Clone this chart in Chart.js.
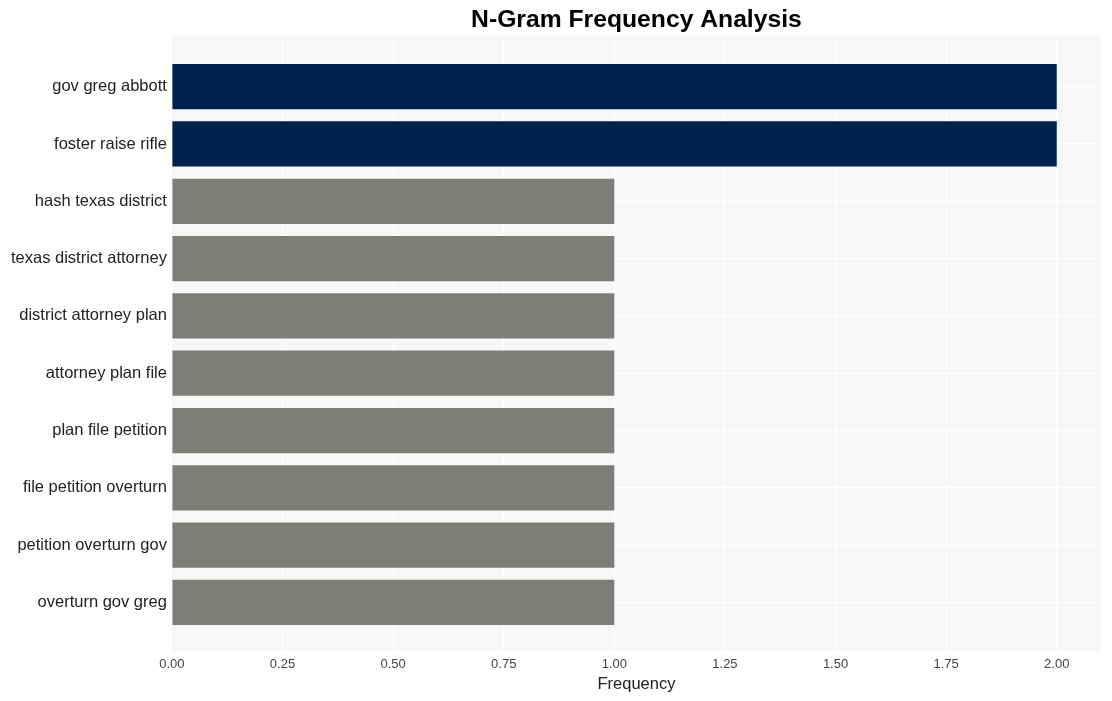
<!DOCTYPE html>
<html>
<head>
<meta charset="utf-8">
<script src="https://cdn.jsdelivr.net/npm/chart.js@4"></script>
<style>
  html, body { margin: 0; padding: 0; background: #fff; }
  #wrap { width: 1112px; height: 701px; }
</style>
</head>
<body>
<div id="wrap"><canvas id="ngramChart"></canvas></div>
<script>
"use strict";
// ========== DATA ========== //
const ngrams = [
  "gov greg abbott",
  "foster raise rifle",
  "hash texas district",
  "texas district attorney",
  "district attorney plan",
  "attorney plan file",
  "plan file petition",
  "file petition overturn",
  "petition overturn gov",
  "overturn gov greg"
];
const frequencies = [2, 2, 1, 1, 1, 1, 1, 1, 1, 1];
const xTicks = [0, 0.25, 0.5, 0.75, 1, 1.25, 1.5, 1.75, 2];

// top values get the dark colour, the rest grey
const barColors = frequencies.map(f => f === 2 ? "#00224f" : "#7e7d78");

// plot background
const plotBg = {
  id: "plotBg",
  beforeDraw(chart) {
    const { ctx, chartArea: a } = chart;
    ctx.save();
    ctx.fillStyle = "#f7f7f7";
    ctx.fillRect(a.left, a.top, a.right - a.left, a.bottom - a.top);
    ctx.restore();
  }
};

const font = "Liberation Sans, Arial, sans-serif";

// rows on a numeric axis so the band can have extra space at the ends
const rows = frequencies.map((f, i) => ({ x: f, y: i }));

const chart = new Chart(document.querySelector("#ngramChart"), {
  type: "bar",
  data: {
    labels: ngrams,
    datasets: [{
      data: rows,
      backgroundColor: barColors,
      borderWidth: 0,
      barPercentage: 0.79,
      categoryPercentage: 1
    }]
  },
  options: {
    indexAxis: "y",
    responsive: true,
    maintainAspectRatio: false,
    animation: false,
    layout: { padding: { left: 6, right: 11, top: 2, bottom: 7 } },
    plugins: {
      legend: { display: false },
      tooltip: { enabled: false },
      title: {
        display: true,
        text: "N-Gram Frequency Analysis",
        fullSize: false,
        color: "#000",
        font: { family: font, size: 24.7, weight: "bold" },
        padding: { top: 3, bottom: 1 }
      }
    },
    scales: {
      x: {
        type: "linear",
        min: 0,
        max: 2.1,
        afterBuildTicks(scale) { scale.ticks = xTicks.map(v => ({ value: v })); },
        grid: { color: "#ffffff", lineWidth: 1, drawTicks: false },
        border: { display: false },
        ticks: {
          color: "#444",
          padding: 6,
          font: { family: font, size: 13 },
          callback: v => Number(v).toFixed(2)
        },
        title: {
          display: true,
          text: "Frequency",
          color: "#222",
          padding: { top: -4, bottom: 0 },
          font: { family: font, size: 16.5 }
        }
      },
      y: {
        type: "linear",
        reverse: true,
        min: -0.89,
        max: ngrams.length - 1 + 0.84,
        offset: false,
        afterBuildTicks(scale) { scale.ticks = ngrams.map((_, i) => ({ value: i })); },
        grid: { color: "#ffffff", lineWidth: 1, drawTicks: false, offset: false },
        border: { display: false },
        ticks: {
          color: "#222",
          padding: 5,
          font: { family: font, size: 16.5 },
          callback: v => ngrams[v]
        }
      }
    }
  },
  plugins: [plotBg]
});
</script>
</body>
</html>
